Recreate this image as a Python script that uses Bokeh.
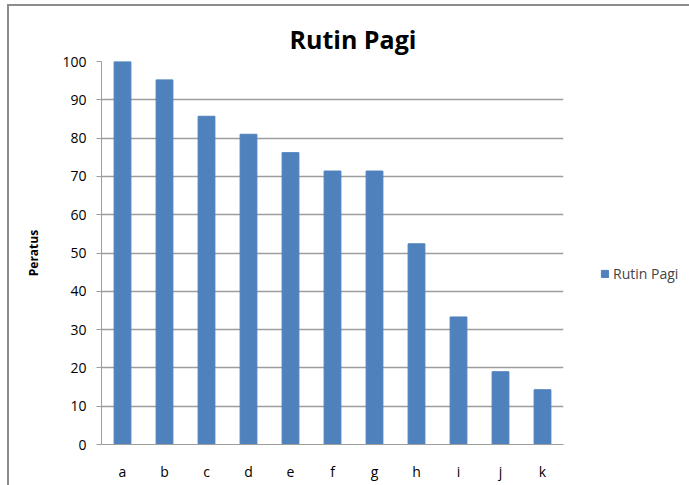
from bokeh.plotting import figure
from bokeh.models import ColumnDataSource, Legend, LegendItem, Range1d, FixedTicker, Title
from bokeh.embed import file_html
from bokeh.resources import INLINE

categories = ["a", "b", "c", "d", "e", "f", "g", "h", "i", "j", "k"]
values = [100, 95.2, 85.7, 81.0, 76.2, 71.4, 71.4, 52.4, 33.3, 19.0, 14.3]
y_ticks = [0, 10, 20, 30, 40, 50, 60, 70, 80, 90, 100]
series_name = "Rutin Pagi"
y_label = "Peratus"

FONT = "Open Sans"
BAR = "#4f81bd"
GRID = "#9d9d9d"

src = ColumnDataSource(dict(cat=categories, val=values))

p = figure(x_range=categories, y_range=Range1d(0, 100),
           frame_width=462, frame_height=383,
           output_backend="svg", toolbar_location=None,
           min_border_left=92, min_border_right=127, min_border_top=55, min_border_bottom=42)
p.styles = {"border-left": "2px solid #8c8c8c", "border-top": "2px solid #8c8c8c",
            "box-sizing": "border-box", "margin-left": "7px", "margin-top": "4px"}

r = p.vbar(x="cat", top="val", width=0.4, source=src, color=BAR)

p.title = Title(text="Rutin Pagi", text_font=FONT, text_font_size="25px",
                text_font_style="bold", align="left", offset=188, standoff=11)
p.title.text_color = "#000000"

p.outline_line_color = None

p.yaxis.ticker = FixedTicker(ticks=y_ticks)
p.yaxis.axis_label = y_label
p.yaxis.axis_label_text_font = FONT
p.yaxis.axis_label_text_font_size = "12px"
p.yaxis.axis_label_text_font_style = "bold"
p.yaxis.axis_label_text_color = "#000000"
p.yaxis.axis_label_standoff = 17
p.yaxis.major_label_text_font = FONT
p.yaxis.major_label_text_font_size = "14px"
p.yaxis.major_label_text_color = "#000000"
p.yaxis.major_label_standoff = 10
p.yaxis.axis_line_color = GRID
p.yaxis.major_tick_line_color = GRID
p.yaxis.major_tick_out = 5
p.yaxis.major_tick_in = 0
p.yaxis.minor_tick_line_color = None

p.xaxis.major_label_text_font = FONT
p.xaxis.major_label_text_font_size = "14px"
p.xaxis.major_label_text_color = "#000000"
p.xaxis.major_label_standoff = 11
p.xaxis.axis_line_color = GRID
p.xaxis.major_tick_line_color = None

p.xgrid.grid_line_color = None
p.ygrid.grid_line_color = GRID
p.ygrid.grid_line_width = 1.5

legend = Legend(items=[LegendItem(label=series_name, renderers=[r])],
                location=(37, 161), border_line_alpha=0, background_fill_alpha=0,
                label_text_font=FONT, label_text_font_size="14px",
                glyph_width=9, glyph_height=9, label_standoff=4, padding=0, margin=0)
p.add_layout(legend, "right")

html = file_html(p, INLINE)
open("out.html", "w").write(html)
